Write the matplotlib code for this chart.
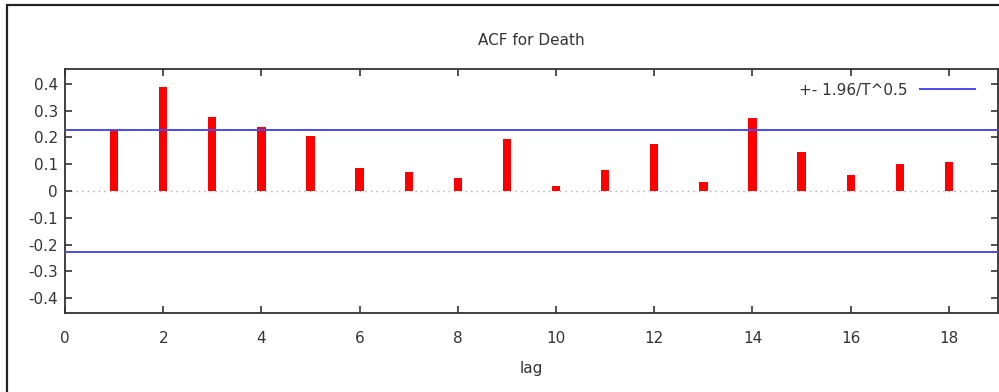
import matplotlib

matplotlib.use("Agg")
import matplotlib.pyplot as plt  # noqa: E402
from matplotlib.patches import Rectangle  # noqa: E402

# ACF values
lags = [1, 2, 3, 4, 5, 6, 7, 8, 9, 10, 11, 12, 13, 14, 15, 16, 17, 18]
acf = [0.228, 0.389, 0.277, 0.240, 0.206, 0.086, 0.071, 0.049, 0.194,
       0.019, 0.079, 0.176, 0.032, 0.273, 0.146, 0.060, 0.100, 0.108]
bound = 0.228  # 1.96 / sqrt(T)

x_ticks = [0, 2, 4, 6, 8, 10, 12, 14, 16, 18]
y_ticks = [-0.4, -0.3, -0.2, -0.1, 0.0, 0.1, 0.2, 0.3, 0.4]
y_labels = ["-0.4", "-0.3", "-0.2", "-0.1", "0", "0.1", "0.2", "0.3", "0.4"]

TXT = "#333333"
FS = 11
plt.rcParams["font.family"] = ["DejaVu Sans"]

fig = plt.figure(figsize=(9.99, 3.92), dpi=100)
fig.patches.append(Rectangle((6.5 / 999, -0.05), 1.2, 1.05 - 4.5 / 392,
                             transform=fig.transFigure, fill=False,
                             edgecolor="#222222", lw=1.6))

ax = fig.add_axes([65 / 999, 79 / 392, 933 / 999, 244 / 392])

ax.axhline(0, color="#aaaaaa", lw=1.0, ls=(0, (1, 3)), zorder=1)
ax.bar(lags, acf, width=0.17, color="#ff0000", zorder=2)
ax.axhline(bound, color="#4b4bf0", lw=1.4, zorder=3, label="+- 1.96/T^0.5")
ax.axhline(-bound, color="#4b4bf0", lw=1.4, zorder=3)

ax.set_xlim(0, 19)
ax.set_ylim(-0.456, 0.456)
ax.set_xticks(x_ticks)
ax.set_yticks(y_ticks)
ax.set_yticklabels(y_labels)
ax.tick_params(direction="in", length=5, width=1.2, color=TXT,
               labelcolor=TXT, labelsize=FS, top=True, right=True)
ax.tick_params(axis="x", pad=13)
ax.tick_params(axis="y", pad=5)
for s in ax.spines.values():
    s.set_color(TXT)
    s.set_linewidth(1.3)

ax.set_title("ACF for Death", fontsize=FS, color=TXT, pad=17)
ax.set_xlabel("lag", fontsize=FS, color=TXT, labelpad=11)
ax.legend(loc="upper right", bbox_to_anchor=(0.99, 1.0), frameon=False,
          markerfirst=False, handlelength=3.6, fontsize=FS,
          labelcolor=TXT, handletextpad=0.8)

fig.savefig("out.png", dpi=100)
